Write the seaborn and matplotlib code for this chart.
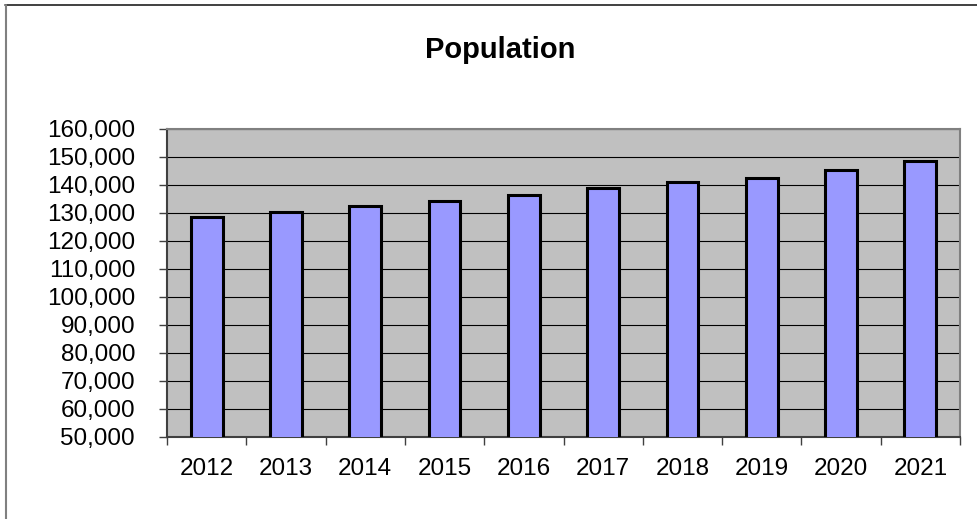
import matplotlib
matplotlib.use("Agg")
import matplotlib.pyplot as plt
import matplotlib.ticker as mticker
from matplotlib.lines import Line2D
import seaborn as sns
import pandas as pd
import numpy as np

years = ["2012", "2013", "2014", "2015", "2016", "2017", "2018", "2019", "2020", "2021"]
population = [128700, 130200, 132400, 134400, 136400, 138900, 141100, 142600, 145400, 148400]
y_ticks = [50000, 60000, 70000, 80000, 90000, 100000, 110000, 120000, 130000, 140000, 150000, 160000]
title = "Population"

sns.set_theme(style="white")
plt.rcParams['font.family'] = ['Liberation Sans', 'DejaVu Sans']

W, H = 977, 519
fig = plt.figure(figsize=(W / 100, H / 100), dpi=100)
fig.patch.set_facecolor("white")

left, right, top, bottom = 167, 960, 129, 437
ax = fig.add_axes([left / W, 1 - bottom / H, (right - left) / W, (bottom - top) / H])
ax.set_facecolor("#C0C0C0")

df = pd.DataFrame({"year": years, "population": population})
sns.barplot(data=df, x="year", y="population", color="#9999FF", width=0.4,
            edgecolor="black", linewidth=2.2, saturation=1, ax=ax, zorder=3)

ax.set_ylim(y_ticks[0], y_ticks[-1])
ax.set_xlim(-0.5, len(years) - 0.5)
ax.set_yticks(y_ticks)
ax.yaxis.set_major_formatter(mticker.FuncFormatter(lambda v, p: f"{int(v):,}"))
ax.yaxis.grid(True, color="black", linewidth=0.8, zorder=1)
ax.set_axisbelow(True)
ax.set_xlabel("")
ax.set_ylabel("")

ax.set_xticks(np.arange(len(years)))
ax.set_xticklabels(years)
ax.set_xticks(np.arange(len(years) + 1) - 0.5, minor=True)
ax.tick_params(axis="x", which="major", length=0, pad=15, labelsize=17.5, colors="black")
ax.tick_params(axis="x", which="minor", length=6, width=1, color="#404040", direction="out")
ax.tick_params(axis="y", which="major", length=6, width=1, color="#404040", direction="out",
               pad=17, labelsize=17.5, labelcolor="black")
ax.tick_params(bottom=True, left=True, which="both")

for side, sp in ax.spines.items():
    sp.set_visible(True)
    sp.set_color("#808080")
    sp.set_linewidth(1.5)
ax.spines["left"].set_color("#404040")
ax.spines["bottom"].set_color("#404040")

fig.text(500 / W, 1 - 58 / H, title, ha="center", va="baseline",
         fontsize=21, fontweight="bold", color="black")

fig.add_artist(Line2D([5 / W, 1.01], [1 - 5 / H, 1 - 5 / H], color="#202020", linewidth=1.2,
                      transform=fig.transFigure))
fig.add_artist(Line2D([5.5 / W, 5.5 / W], [-0.01, 1 - 5 / H], color="#808080", linewidth=1.5,
                      transform=fig.transFigure))

fig.savefig("out.png", dpi=100)
